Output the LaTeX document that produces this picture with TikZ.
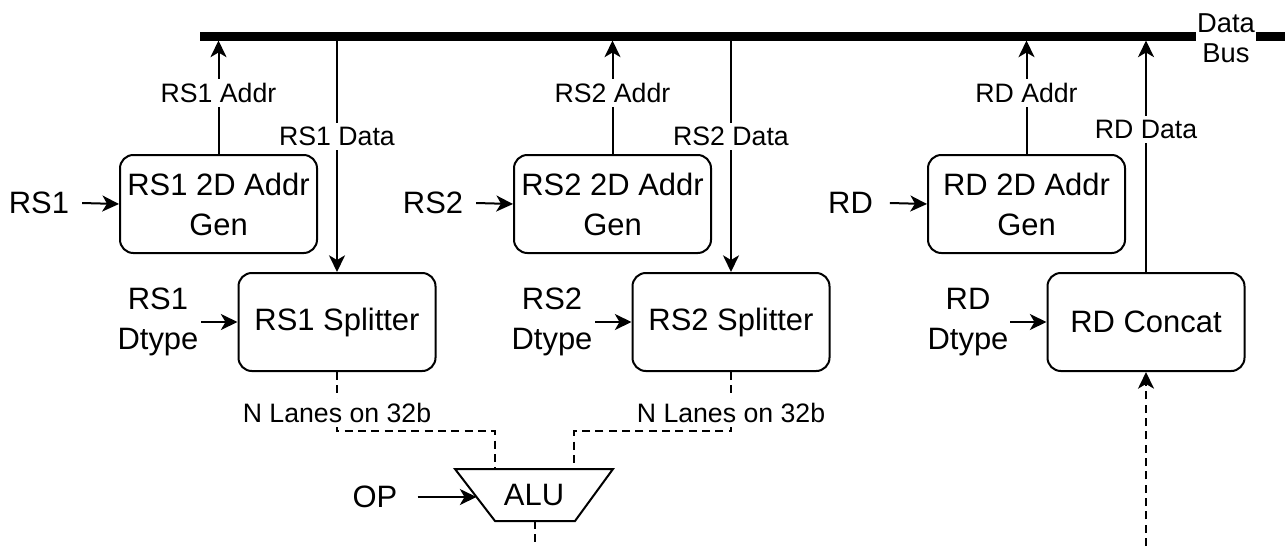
\documentclass[tikz,border=0pt]{standalone}
\usepackage{fontspec}
\setmainfont{Liberation Sans}
\usetikzlibrary{arrows.meta}
\begin{document}
\begin{tikzpicture}[x=0.75pt,y=-0.75pt,line width=1.5pt,
  box/.style={draw,rounded corners=10pt,minimum width=147.75pt,minimum height=73.5pt,
    align=center,inner sep=0pt,font=\fontsize{23.2}{30}\selectfont},
  txt/.style={align=center,inner ysep=0pt,font=\fontsize{23.2}{30.5}\selectfont},
  elbl/.style={fill=white,inner xsep=1pt,inner ysep=3pt,font=\fontsize{20}{22}\selectfont},
  arr/.style={-{Stealth[length=12.5pt,width=12pt,inset=3.5pt]}},
  dsh/.style={dash pattern=on 6pt off 4pt},
  bus/.style={line width=6.75pt}]
\useasboundingbox (0,0) rectangle (1288,546);

% data bus
\coordinate (busL) at (200,36);
\coordinate (busR) at (1285,36);
\coordinate (busB) at (0,40.5);
\node[inner sep=0pt,fill=white,align=center,font=\fontsize{20.5}{22.5}\selectfont] (dbus) at (1226,38) {Data\\Bus};
\draw[bus] (busL) -- (dbus.west |- busL);
\draw[bus] (dbus.east |- busR) -- (busR);

% address generators and data paths
\node[box] (a1) at (218.5,204) {RS1 2D Addr\\Gen};
\node[box] (s1) at (337,322) {RS1 Splitter};
\node[box] (a2) at (612.5,204) {RS2 2D Addr\\Gen};
\node[box] (s2) at (731,322) {RS2 Splitter};
\node[box] (a3) at (1026.5,204) {RD 2D Addr\\Gen};
\node[box] (c3) at (1146,322) {RD Concat};

% inputs
\node[txt,inner xsep=9pt] (t1) at (39,203) {RS1};
\node[txt,inner xsep=9pt] (t2) at (433,203) {RS2};
\node[txt,inner xsep=12pt] (t3) at (850.5,203) {RD};
\node[txt,inner xsep=1.5pt] (d1) at (158,322) {RS1\\Dtype};
\node[txt,inner xsep=1.5pt] (d2) at (552,322) {RS2\\Dtype};
\node[txt,inner xsep=0.5pt] (d3) at (968,322) {RD\\Dtype};
\draw[arr] (t1.east) -- (a1.west);
\draw[arr] (t2.east) -- (a2.west);
\draw[arr] (t3.east) -- (a3.west);
\draw[arr] (d1.east) -- (s1.west);
\draw[arr] (d2.east) -- (s2.west);
\draw[arr] (d3.east) -- (c3.west);

% address and data connections to the bus
\draw[arr] (a1.north) -- (a1.north |- busB) node[elbl,pos=0.54] {RS1 Addr};
\draw[arr] (a2.north) -- (a2.north |- busB) node[elbl,pos=0.54] {RS2 Addr};
\draw[arr] (a3.north) -- (a3.north |- busB) node[elbl,pos=0.54] {RD Addr};
\draw[arr] (s1.north |- busL) -- (s1.north) node[elbl,pos=0.426] {RS1 Data};
\draw[arr] (s2.north |- busL) -- (s2.north) node[elbl,pos=0.426] {RS2 Data};
\draw[arr] (c3.north) -- (c3.north |- busB) node[elbl,pos=0.615] {RD Data};

% ALU
\coordinate (aluTL) at (455,469);
\coordinate (aluTR) at (613,469);
\coordinate (aluBR) at (575,521);
\coordinate (aluBL) at (495,521);
\coordinate (aluIn1) at (495,469);
\coordinate (aluIn2) at (574,469);
\coordinate (aluOp) at (476.5,497);
\coordinate (aluOut) at (535,521);
\coordinate (aluEnd) at (535,546);
\draw (aluTL) -- (aluTR) -- (aluBR) -- (aluBL) -- cycle;
\node[txt] (alu) at (534,495) {ALU};
\node[txt,inner xsep=14.5pt] (op) at (375,497) {OP};
\draw[arr] (op.east) -- (aluOp);

% lane buses into the ALU
\draw[dsh] (s1.south) -- (s1.south |- 0,431) -| (aluIn1);
\draw[dsh] (s2.south) -- (s2.south |- 0,431) -| (aluIn2);
\node[elbl] at (337,413) {N Lanes on 32b};
\node[elbl] at (731,413) {N Lanes on 32b};
\draw[dsh] (aluOut) -- (aluEnd);

% result into the concatenator
\coordinate (resIn) at (1146,546);
\draw[dsh,arr] (resIn) -- (c3.south);
\end{tikzpicture}
\end{document}
